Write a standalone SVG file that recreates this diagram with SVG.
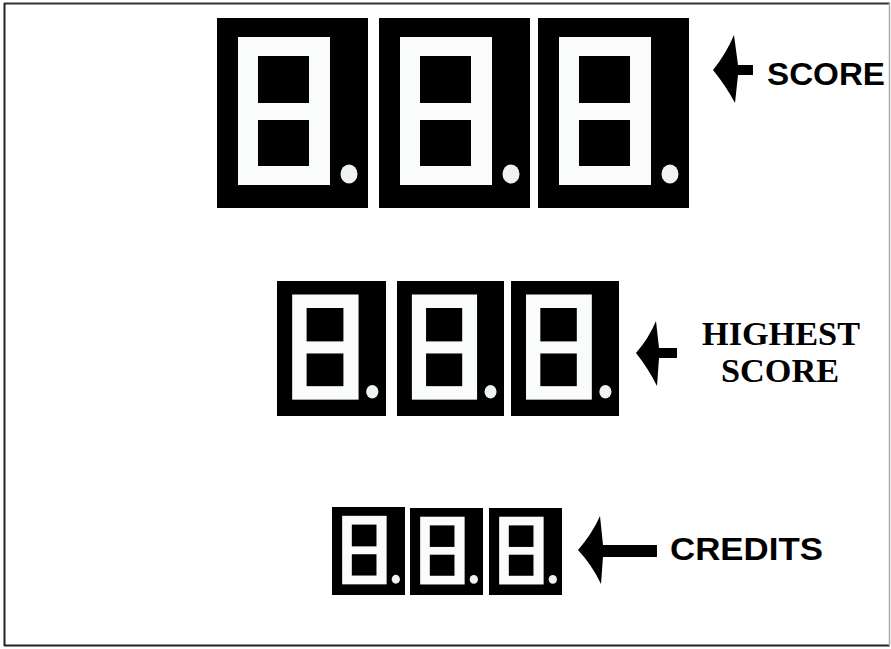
<svg xmlns="http://www.w3.org/2000/svg" xmlns:xlink="http://www.w3.org/1999/xlink" width="891" height="649" viewBox="0 0 891 649">
<style>
.sans{font-family:"Liberation Sans",Arial,sans-serif;font-weight:bold;fill:#000}
.serif{font-family:"Liberation Serif","Times New Roman",serif;font-weight:bold;fill:#000}
.arrow{fill:#000}
</style>
<defs>
<symbol id="digit" viewBox="0 0 151 190" preserveAspectRatio="none">
<rect x="0" y="0" width="151" height="190" fill="#000"/>
<rect x="21" y="19" width="92" height="148" fill="#fafbfb"/>
<rect x="41" y="38" width="51" height="47" fill="#000"/>
<rect x="41" y="102" width="51" height="46" fill="#000"/>
<ellipse cx="132" cy="156" rx="8.5" ry="9.5" fill="#eef3f2"/>
</symbol>
</defs>
<rect x="0" y="0" width="891" height="649" fill="#fff"/>
<g id="frame">
<line x1="4" y1="3.5" x2="890" y2="3.5" stroke="#333" stroke-width="2"/>
<line x1="4.5" y1="3" x2="4.5" y2="646" stroke="#222" stroke-width="2"/>
<line x1="4" y1="645.5" x2="890" y2="645.5" stroke="#222" stroke-width="2"/>
<line x1="889.5" y1="3" x2="889.5" y2="646" stroke="#aaa" stroke-width="1.5"/>
</g>
<g id="score-display">
<use xlink:href="#digit" x="217" y="18" width="151" height="190"/>
<use xlink:href="#digit" x="379" y="18" width="151" height="190"/>
<use xlink:href="#digit" x="538" y="18" width="151" height="190"/>
</g>
<g id="highest-display">
<use xlink:href="#digit" x="277" y="281" width="109" height="135"/>
<use xlink:href="#digit" x="397" y="281" width="107" height="135"/>
<use xlink:href="#digit" x="511" y="281" width="108" height="135"/>
</g>
<g id="credits-display">
<use xlink:href="#digit" x="332" y="507" width="73" height="88"/>
<use xlink:href="#digit" x="410" y="508" width="73" height="87"/>
<use xlink:href="#digit" x="489" y="508" width="73" height="87"/>
</g>
<g id="connectors">
<path class="arrow" d="M713,70 Q726,54 734,35 L738,65 L753,65 L753,75 L738,75 L735,103 Q726,86 713,70 Z"/>
<path class="arrow" d="M636,353 Q649,338 656,321 L659,348 L677,348 L677,358 L659,358 L657,386 Q648,368 636,353 Z"/>
<path class="arrow" d="M578,550 Q592,534 600,516 L603,545 L657,545 L657,557 L603,557 L601,584 Q592,565 578,550 Z"/>
</g>
<g id="score-label">
<text class="sans" x="767" y="85" font-size="32" textLength="118" lengthAdjust="spacingAndGlyphs">SCORE</text>
</g>
<g id="highest-label">
<text class="serif" x="702" y="345" font-size="34" textLength="158" lengthAdjust="spacingAndGlyphs">HIGHEST</text>
<text class="serif" x="721" y="382" font-size="34" textLength="118" lengthAdjust="spacingAndGlyphs">SCORE</text>
</g>
<g id="credits-label">
<text class="sans" x="670" y="560" font-size="31" textLength="153" lengthAdjust="spacingAndGlyphs">CREDITS</text>
</g>
</svg>
